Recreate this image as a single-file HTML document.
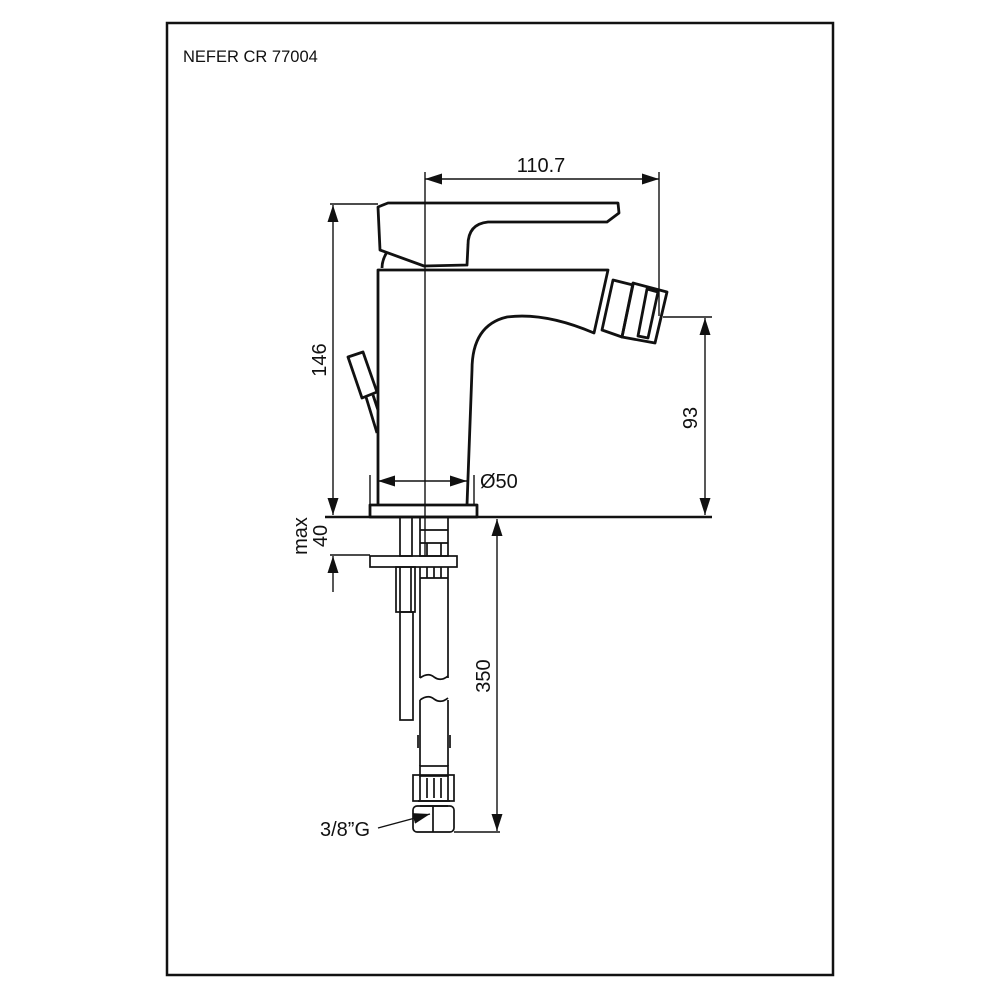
<!DOCTYPE html>
<html><head><meta charset="utf-8"><style>
html,body{margin:0;padding:0;background:#fff}
svg{display:block}
text{font-family:"Liberation Sans",sans-serif;fill:#111}
</style></head><body>
<svg width="1000" height="1000" viewBox="0 0 1000 1000" xmlns="http://www.w3.org/2000/svg">
<defs>
<marker id="a" viewBox="0 0 10 10" refX="10" refY="5" markerWidth="17" markerHeight="11" orient="auto-start-reverse" markerUnits="userSpaceOnUse" preserveAspectRatio="none"><path d="M0,0 L10,5 L0,10 z" fill="#111"/></marker>
</defs>
<rect x="167" y="23" width="666" height="952" fill="none" stroke="#111" stroke-width="2.5"/>
<text x="183" y="62" font-size="16.5">NEFER CR 77004</text>

<g fill="none" stroke="#111" stroke-width="2.8" stroke-linejoin="round">
<path d="M378,207 L388,203 L618,203 L619,213 L607,222 L488,222 Q468,224 468,245 L467,265 L424,266 L380,250 Z" fill="#fff"/>
<path d="M387,252 Q382,260 382,268"/>
<path d="M378,505 L378,270 L608,270 L594,333 Q545,312 507,317 Q472,325 472,370 L467,505"/>
<rect x="370" y="505" width="107" height="12"/>
<polygon points="613,280 633,285 622,337 602,330"/>
<polygon points="633,283 667,292 655,343 622,337"/>
<polygon points="647,289 658,292 648,338 638,336"/>
<polygon points="348,357 363,352 377,392 362,398"/>
<path d="M366,397 L377,433 M373,395 L378,410"/>
</g>

<g fill="none" stroke="#111" stroke-width="1.7">
<rect x="400" y="517" width="12" height="39"/>
<rect x="420" y="517" width="28" height="39"/>
<path d="M420,530 L448,530 M420,543 L448,543 M427,543 L427,556 M441,543 L441,556"/>
<rect x="370" y="556" width="87" height="11"/>
<rect x="396" y="567" width="19" height="45"/>
<path d="M400,567 L400,612 M411,567 L411,612"/>
<rect x="400" y="612" width="13" height="108"/>
<path d="M420,567 L420,678 M448,567 L448,678 M420,578 L448,578 M427,567 L427,578 M434,567 L434,578 M441,567 L441,578"/>
<path d="M420,678 Q428,672 434,677 Q441,682 448,676"/>
<path d="M420,700 Q428,694 434,699 Q441,704 448,698"/>
<path d="M420,700 L420,766 M448,700 L448,766 M418,735 L418,748 M450,735 L450,748"/>
<rect x="420" y="766" width="28" height="10"/>
<rect x="413" y="775" width="41" height="26"/>
<path d="M420,776 L420,800 M448,776 L448,800 M427,778 L427,798 M434,778 L434,798 M441,778 L441,798"/>
<path d="M418,801 L450,801 M420,806 L448,806"/>
<rect x="413" y="806" width="41" height="26" rx="4"/>
<path d="M433,806 L433,832"/>
</g>

<g fill="none" stroke="#111" stroke-width="1.4">
<path d="M425,172 L425,556"/>
<path d="M659,172 L659,316"/>
<path d="M425,179 L659,179" marker-start="url(#a)" marker-end="url(#a)"/>
<path d="M330,204 L378,204"/>
<path d="M333,205 L333,515" marker-start="url(#a)" marker-end="url(#a)"/>
<path d="M663,317 L712,317"/>
<path d="M705,318 L705,515" marker-start="url(#a)" marker-end="url(#a)"/>
<path d="M370,475 L370,505 M474,475 L474,505"/>
<path d="M378,481 L467,481" marker-start="url(#a)" marker-end="url(#a)"/>
<path d="M330,555 L370,555"/>
<path d="M333,592 L333,556" marker-end="url(#a)"/>
<path d="M454,832 L500,832"/>
<path d="M497,519 L497,831" marker-start="url(#a)" marker-end="url(#a)"/>
<path d="M378,828 L430,814" marker-end="url(#a)"/>
</g>
<path d="M325,517 L712,517" stroke="#111" stroke-width="2.4"/>

<text x="541" y="172" font-size="20" text-anchor="middle">110.7</text>
<text transform="translate(326,360) rotate(-90)" font-size="20" text-anchor="middle">146</text>
<text transform="translate(697,418) rotate(-90)" font-size="20" text-anchor="middle">93</text>
<text x="480" y="488" font-size="20">Ø50</text>
<text transform="translate(307,536) rotate(-90)" font-size="20" text-anchor="middle">max</text>
<text transform="translate(327,536) rotate(-90)" font-size="20" text-anchor="middle">40</text>
<text transform="translate(490,676) rotate(-90)" font-size="20" text-anchor="middle">350</text>
<text x="320" y="836" font-size="20">3/8”G</text>
</svg>
</body></html>
